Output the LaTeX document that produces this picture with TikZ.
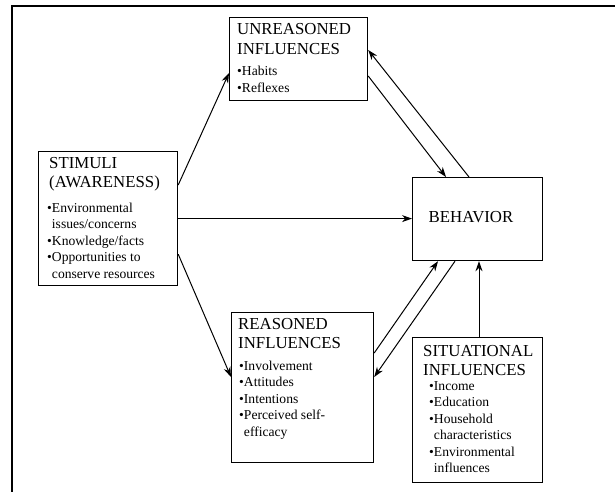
\documentclass[tikz,border=0pt]{standalone}
\usepackage{fontspec}
\setmainfont{Liberation Serif}
\usetikzlibrary{arrows.meta}
\begin{document}
\begin{tikzpicture}[x=1pt,y=-1pt,
  box/.style={draw, line width=1.2pt, inner sep=0pt, anchor=north west},
  ttl/.style={anchor=base west, inner sep=0pt, font=\fontsize{16.8}{19.5}\selectfont},
  itm/.style={anchor=base west, inner sep=0pt, font=\fontsize{13.6}{16.5}\selectfont},
  arr/.style={line width=1pt, -{Stealth[length=10pt,width=7pt]}},
  frameline/.style={line width=1.8pt}]
\useasboundingbox (0,0) rectangle (615,492);
% frame
\coordinate (fa) at (12,492);
\coordinate (fb) at (12,6);
\coordinate (fc) at (615,6);
\draw[frameline] (fa) -- (fb) -- (fc);

% boxes
\node[box, minimum width=138pt, minimum height=83pt] (u) at (229,17) {};
\node[box, minimum width=139pt, minimum height=134pt] (s) at (38,151) {};
\node[box, minimum width=130pt, minimum height=83pt] (b) at (412,177) {};
\node[box, minimum width=142pt, minimum height=150pt] (r) at (231,312) {};
\node[box, minimum width=130pt, minimum height=145pt] (x) at (412,337) {};

% texts
\node[ttl] (ut) at (237,35) {\begin{tabular}[t]{@{}l@{}}UNREASONED\\INFLUENCES\end{tabular}};
\node[itm] (ui) at (237,76) {\begin{tabular}[t]{@{}l@{}}•Habits\\•Reflexes\end{tabular}};

\node[ttl] (st) at (49,168) {\begin{tabular}[t]{@{}l@{}}STIMULI\\(AWARENESS)\end{tabular}};
\node[itm] (si) at (47,212) {\begin{tabular}[t]{@{}l@{}}•Environmental\\\hphantom{•}issues/concerns\\•Knowledge/facts\\•Opportunities to\\\hphantom{•}conserve resources\end{tabular}};

\node[anchor=base, inner sep=0pt, font=\fontsize{16.8}{19.5}\selectfont] (bt) at (471,222) {BEHAVIOR};

\node[ttl] (rt) at (238,329) {\begin{tabular}[t]{@{}l@{}}REASONED\\INFLUENCES\end{tabular}};
\node[itm] (ri) at (239,370) {\begin{tabular}[t]{@{}l@{}}•Involvement\\•Attitudes\\•Intentions\\•Perceived self-\\\hphantom{•}efficacy\end{tabular}};

\node[ttl] (xt) at (423,356) {\begin{tabular}[t]{@{}l@{}}SITUATIONAL\\INFLUENCES\end{tabular}};
\node[itm] (xi) at (429,390) {\begin{tabular}[t]{@{}l@{}}•Income\\•Education\\•Household\\\hphantom{•}characteristics\\•Environmental\\\hphantom{•}influences\end{tabular}};

% connectors
\draw[arr] ([yshift=-34pt]s.north east) -- ([yshift=-56pt]u.north west);
\draw[arr] (s.east) -- (b.west |- s.east);
\draw[arr] ([yshift=32pt]s.south east) -- ([yshift=-65pt]r.north west);
\draw[arr] ([yshift=-59pt]u.north east) -- ([xshift=34pt]b.north west);
\draw[arr] ([xshift=57pt]b.north west) -- ([yshift=-33pt]u.north east);
\draw[arr] ([yshift=-41pt]r.north east) -- ([xshift=26pt]b.south west);
\draw[arr] ([xshift=43pt]b.south west) -- ([yshift=-65pt]r.north east);
\draw[arr] ([xshift=67pt]x.north west) -- ([xshift=67pt]b.south west);
\end{tikzpicture}
\end{document}
